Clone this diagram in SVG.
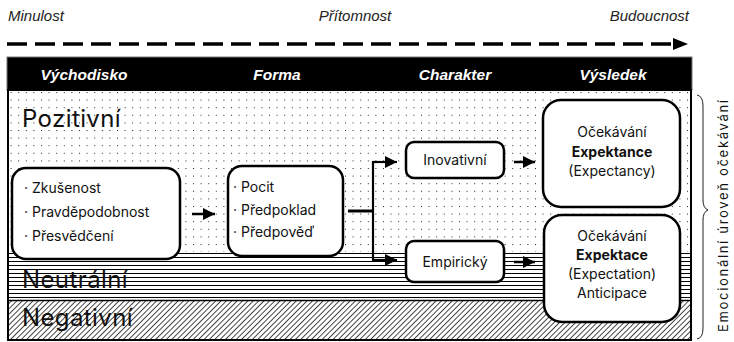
<svg xmlns="http://www.w3.org/2000/svg" width="734" height="342" viewBox="0 0 734 342">
<style>
.time{font-family:"Liberation Sans",Arial,sans-serif;font-style:italic;font-size:15px;fill:#222}
.hdr{font-family:"Liberation Sans",Arial,sans-serif;font-style:italic;font-weight:bold;font-size:15.5px;fill:#fff;text-anchor:middle}
.zone{font-family:Inter,"Noto Sans",sans-serif;font-size:24px;font-weight:400;fill:#111;letter-spacing:0.4px}
.t{font-family:Inter,"Noto Sans",sans-serif;font-size:14px;fill:#111}
.c{text-anchor:middle}
.b{font-weight:bold}
.box{fill:#fff;stroke:#000;stroke-width:2.5}
.con{stroke:#000;fill:none}
.side{font-family:Inter,"Noto Sans",sans-serif;font-size:13px;fill:#111;text-anchor:middle}
</style>
<defs>
<pattern id="dots" width="7.6" height="7.6" patternUnits="userSpaceOnUse" x="3" y="92">
<rect x="0" y="0" width="1" height="1" fill="#222"/>
</pattern>
<pattern id="hl" width="8" height="4" patternUnits="userSpaceOnUse" x="0" y="252">
<rect x="0" y="1" width="8" height="1" fill="#000"/>
</pattern>
<pattern id="dg" width="3.8" height="3.8" patternUnits="userSpaceOnUse" patternTransform="rotate(45)">
<rect x="0" y="0" width="0.9" height="3.8" fill="#333"/>
</pattern>
<marker id="ahBig" viewBox="0 0 10 10" refX="10" refY="5" markerWidth="14" markerHeight="12" markerUnits="userSpaceOnUse" orient="auto">
<path d="M0,0 L10,5 L0,10 z" fill="#000"/>
</marker>
</defs>

<g id="timeline">
<text class="time" x="8" y="21">Minulost</text>
<text class="time" x="355" y="21" text-anchor="middle">Přítomnost</text>
<text class="time" x="689" y="21" text-anchor="end">Budoucnost</text>
<line x1="7" y1="44" x2="675" y2="44" stroke="#000" stroke-width="3.5" stroke-dasharray="20 8"/>
<path d="M673,38 L688,44 L673,50 z" fill="#000"/>
</g>

<g id="header">
<rect x="7" y="57" width="685" height="33" fill="#000" stroke="#777" stroke-width="1"/>
<text class="hdr" x="84" y="80">Východisko</text>
<text class="hdr" x="277" y="80">Forma</text>
<text class="hdr" x="455" y="80">Charakter</text>
<text class="hdr" x="613" y="80">Výsledek</text>
</g>

<g id="zones">
<rect x="8" y="90" width="683" height="162" fill="#fff"/>
<rect x="8" y="90" width="683" height="162" fill="url(#dots)"/>
<rect x="8" y="252" width="683" height="48" fill="#fff"/>
<rect x="8" y="252" width="683" height="48" fill="url(#hl)"/>
<rect x="8" y="300" width="683" height="40" fill="#fff"/>
<rect x="8" y="300" width="683" height="40" fill="url(#dg)"/>
<line x1="8" y1="300.5" x2="691" y2="300.5" stroke="#000" stroke-width="1.5"/>
<rect x="8" y="90" width="683" height="250" fill="none" stroke="#000" stroke-width="2"/>
<text class="zone" x="22" y="127">Pozitivní</text>
<text class="zone" x="22" y="288">Neutrální</text>
<text class="zone" x="22" y="326">Negativní</text>
</g>

<g id="vychodisko">
<rect class="box" x="12" y="168" width="168" height="91" rx="14"/>
<text class="t" x="24" y="193">· Zkušenost</text>
<text class="t" x="24" y="217">· Pravděpodobnost</text>
<text class="t" x="24" y="241">· Přesvědčení</text>
</g>

<g id="forma">
<rect class="box" x="228" y="166" width="115" height="90" rx="14"/>
<text class="t" x="233" y="192">· Pocit</text>
<text class="t" x="233" y="215">· Předpoklad</text>
<text class="t" x="233" y="237">· Předpověď</text>
</g>

<g id="inovativni">
<rect class="box" x="406" y="142" width="98" height="36" rx="8"/>
<text class="t c" x="455" y="165">Inovativní</text>
</g>

<g id="empiricky">
<rect class="box" x="406" y="241" width="98" height="41" rx="8"/>
<text class="t c" x="455" y="267">Empirický</text>
</g>

<g id="expektance">
<rect class="box" x="543" y="100" width="137" height="107" rx="18"/>
<text class="t c" x="612" y="137">Očekávání</text>
<text class="t c b" x="612" y="157">Expektance</text>
<text class="t c" x="612" y="176">(Expectancy)</text>
</g>

<g id="expektace">
<rect class="box" x="544" y="215" width="136" height="107" rx="18"/>
<text class="t c" x="612" y="241">Očekávání</text>
<text class="t c b" x="612" y="260">Expektace</text>
<text class="t c" x="612" y="279">(Expectation)</text>
<text class="t c" x="612" y="298">Anticipace</text>
</g>

<g id="connectors">
<line class="con" x1="192" y1="214" x2="215" y2="214" stroke-width="2.5" marker-end="url(#ahBig)"/>
<line class="con" x1="348" y1="211" x2="374" y2="211" stroke-width="3"/>
<polyline class="con" points="396,162 373,162 373,260 396,260" stroke-width="2.2"/>
<line class="con" x1="373" y1="162" x2="397" y2="162" stroke-width="2.2" marker-end="url(#ahBig)"/>
<line class="con" x1="373" y1="260" x2="397" y2="260" stroke-width="2.2" marker-end="url(#ahBig)"/>
<line class="con" x1="514" y1="162" x2="535" y2="162" stroke-width="2.5" marker-end="url(#ahBig)"/>
<line class="con" x1="514" y1="262" x2="535" y2="262" stroke-width="2.5" marker-end="url(#ahBig)"/>
</g>

<g id="brace">
<path d="M697,95 Q703,96 703,106 L703,200 Q703,208 708,210 Q703,212 703,220 L703,328 Q703,338 697,339" fill="none" stroke="#222" stroke-width="1"/>
<text class="side" transform="translate(728,216) rotate(-90)" textLength="232" lengthAdjust="spacing">Emocionální úroveň očekávání</text>
</g>
</svg>
